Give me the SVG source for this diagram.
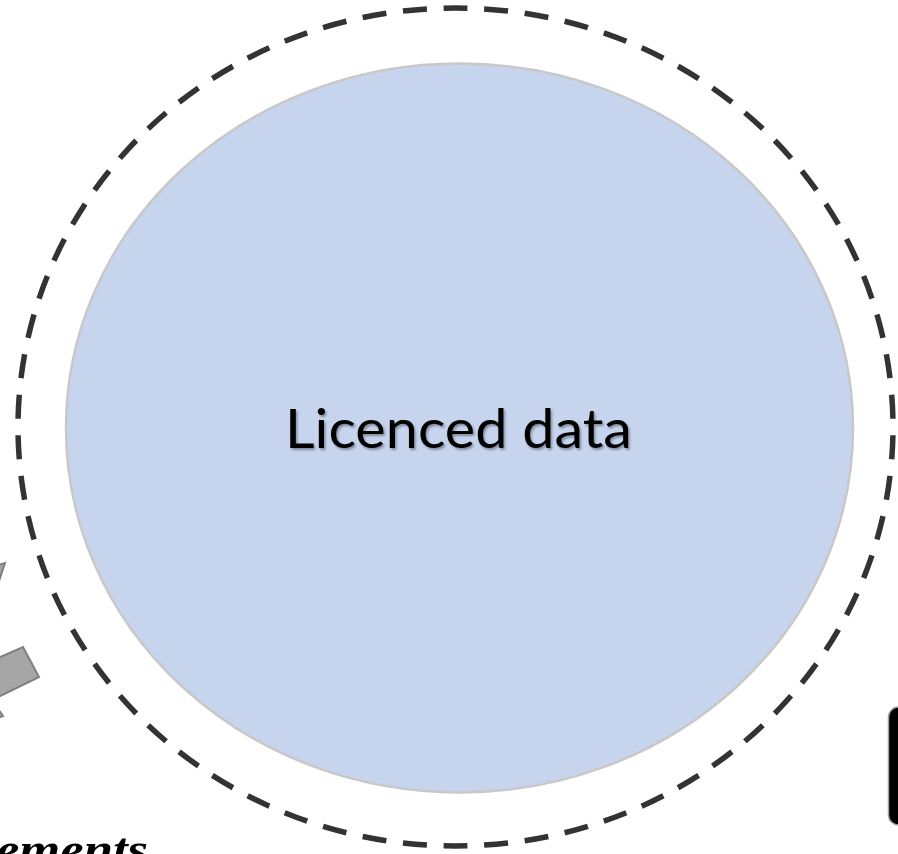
<svg xmlns="http://www.w3.org/2000/svg" width="898" height="854" viewBox="0 0 898 854">
<defs>
<filter id="shadow" x="-10%" y="-30%" width="120%" height="160%">
<feDropShadow dx="1.5" dy="2" stdDeviation="1.2" flood-color="#000" flood-opacity="0.35"/>
</filter>
</defs>
<style>
.boundary{fill:none;stroke:#333333;stroke-width:5.5;stroke-dasharray:0.59 0.41;stroke-dashoffset:0.295}
.blob{fill:#c6d4ee;stroke:#c8c8c8;stroke-width:2.5}
.label{font-family:"Lato","Open Sans","Liberation Sans",sans-serif;font-size:55px;fill:#000}
.arrow{fill:#a6a6a6;stroke:#7f7f7f;stroke-width:2;stroke-linejoin:miter}
.caption{font-family:"Liberation Serif","DejaVu Serif",serif;font-style:italic;font-weight:bold;font-size:44px;fill:#000}
</style>
<rect width="898" height="854" fill="#ffffff"/>
<g id="licenced-boundary">
<path class="boundary" pathLength="66" d="M455.5,8 A437.5,419 0 0 1 455.5,846 A437.5,419 0 0 1 455.5,8 Z"/>
</g>
<g id="licenced-data">
<ellipse class="blob" cx="459.5" cy="428" rx="393.5" ry="364.5"/>
<text class="label" x="285" y="448" textLength="347" lengthAdjust="spacingAndGlyphs" filter="url(#shadow)">Licenced data</text>
</g>
<g id="connectors">
<polygon class="arrow" points="-2,565 5,563 -2,584"/>
<polygon class="arrow" points="-2,658 23,647 39,677 -2,697"/>
<polygon class="arrow" points="-2,709 3,716 -2,718"/>
</g>
<g id="caption">
<text class="caption" x="-4" y="864" textLength="152" lengthAdjust="spacingAndGlyphs">ements</text>
</g>
<g id="right-node">
<rect x="888.5" y="707" width="40" height="118" rx="10" ry="10" fill="#000000" stroke="#a0a0a0" stroke-width="1.5"/>
</g>
</svg>
